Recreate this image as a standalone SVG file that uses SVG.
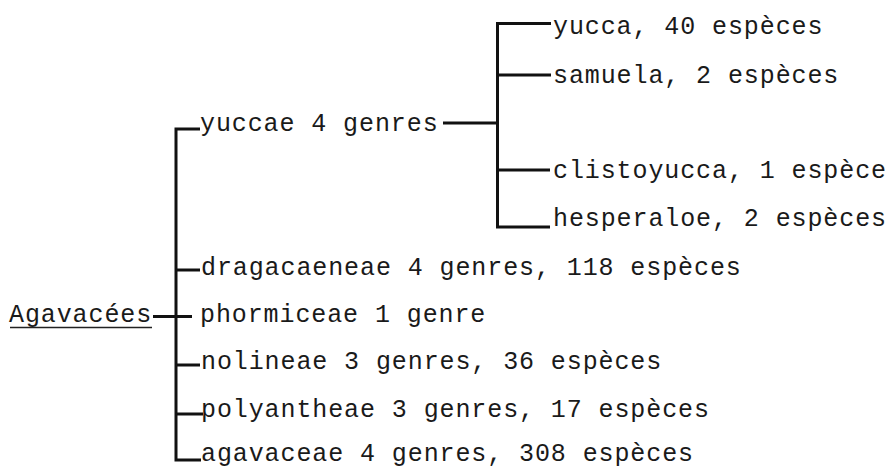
<svg xmlns="http://www.w3.org/2000/svg" width="892" height="468" viewBox="0 0 892 468">
<style>
text{font-family:"Liberation Mono","DejaVu Sans Mono",monospace;font-size:25px;letter-spacing:0.9px;fill:#1a1a1a}
.c{stroke:#111;stroke-width:3;fill:none;stroke-linecap:butt;stroke-linejoin:miter}
.u{stroke:#222;stroke-width:1.5}
</style>
<rect width="892" height="468" fill="#fff"/>
<g id="connectors">
<path class="c" d="M200 129 H176 V460 H201"/>
<path class="c" d="M176 270 H200"/>
<path class="c" d="M153 316.5 H192"/>
<path class="c" d="M176 365 H200"/>
<path class="c" d="M176 414 H203"/>
<path class="c" d="M443 123 H497.5"/>
<path class="c" d="M551 23.5 H497.5 V227 H550"/>
<path class="c" d="M497.5 75 H551"/>
<path class="c" d="M497.5 170 H550"/>
</g>
<g id="agavacees"><text x="9" y="321.5">Agavacées</text><line class="u" x1="10" y1="327.5" x2="152" y2="327.5"/></g>
<g id="yuccae"><text x="200" y="130.5">yuccae 4 genres</text></g>
<g id="yucca"><text x="553" y="33.5">yucca, 40 espèces</text></g>
<g id="samuela"><text x="553" y="82.5">samuela, 2 espèces</text></g>
<g id="clistoyucca"><text x="553" y="178">clistoyucca, 1 espèce</text></g>
<g id="hesperaloe"><text x="553" y="226">hesperaloe, 2 espèces</text></g>
<g id="dragacaeneae"><text x="201" y="274.5">dragacaeneae 4 genres, 118 espèces</text></g>
<g id="phormiceae"><text x="200" y="321.5">phormiceae 1 genre</text></g>
<g id="nolineae"><text x="201" y="369">nolineae 3 genres, 36 espèces</text></g>
<g id="polyantheae"><text x="201" y="416.5">polyantheae 3 genres, 17 espèces</text></g>
<g id="agavaceae"><text x="201" y="461">agavaceae 4 genres, 308 espèces</text></g>
</svg>
